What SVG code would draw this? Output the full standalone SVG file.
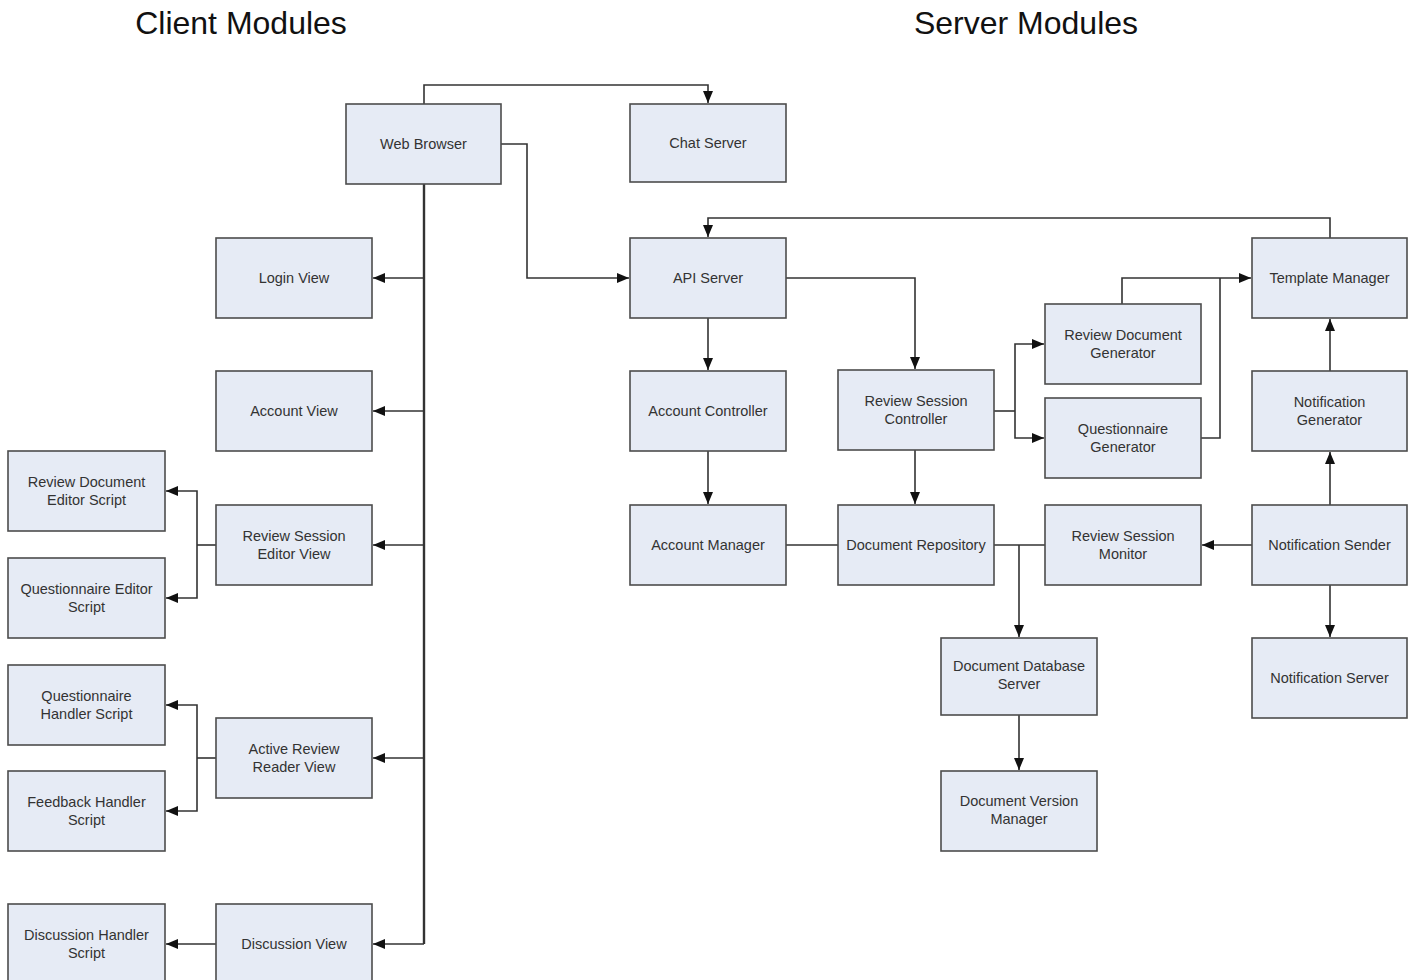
<svg xmlns="http://www.w3.org/2000/svg" width="1408" height="980" viewBox="0 0 1408 980">
<style>
.box{fill:#e6ebf5;stroke:#4d4d4d;stroke-width:1.6}
.lbl{font-family:"Liberation Sans",Arial,sans-serif;font-size:14.5px;fill:#333;text-anchor:middle}
.title{font-family:"Liberation Sans",Arial,sans-serif;font-size:32px;fill:#111;text-anchor:middle}
.c{fill:none;stroke:#333;stroke-width:1.6}
.a{marker-end:url(#ah)}
.bus{stroke-width:2.4}
</style>
<defs>
<marker id="ah" viewBox="0 0 12 10" refX="12" refY="5" markerWidth="12" markerHeight="10" markerUnits="userSpaceOnUse" orient="auto">
<path d="M0,0 L12,5 L0,10 Z" fill="#111"/>
</marker>
</defs>
<rect width="1408" height="980" fill="#fff"/>
<text class="title" x="241" y="34">Client Modules</text>
<text class="title" x="1026" y="34">Server Modules</text>

<g id="connectors">
<path class="c a" d="M424,104 V85 H708 V103"/>
<path class="c a" d="M501,144 H527 V278 H629"/>
<path class="c bus" d="M424,184 V944"/>
<path class="c a" d="M424,278 H373"/>
<path class="c a" d="M424,411 H373"/>
<path class="c a" d="M424,545 H373"/>
<path class="c a" d="M424,758 H373"/>
<path class="c a" d="M424,944 H373"/>
<path class="c" d="M216,545 H197"/>
<path class="c a" d="M197,545 V491 H166"/>
<path class="c a" d="M197,545 V598 H166"/>
<path class="c" d="M216,758 H197"/>
<path class="c a" d="M197,758 V705 H166"/>
<path class="c a" d="M197,758 V811 H166"/>
<path class="c a" d="M216,944 H166"/>
<path class="c a" d="M708,318 V370"/>
<path class="c a" d="M708,451 V504"/>
<path class="c a" d="M786,278 H915 V369"/>
<path class="c" d="M994,411 H1015"/>
<path class="c a" d="M1015,411 V344 H1044"/>
<path class="c a" d="M1015,411 V438 H1044"/>
<path class="c a" d="M1122,304 V278 H1251"/>
<path class="c" d="M1201,438 H1220 V278"/>
<path class="c a" d="M1330,238 V218 H708 V237"/>
<path class="c" d="M786,545 H838"/>
<path class="c a" d="M915,450 V504"/>
<path class="c" d="M994,545 H1045"/>
<path class="c a" d="M1019,545 V637"/>
<path class="c a" d="M1252,545 H1202"/>
<path class="c a" d="M1330,505 V452"/>
<path class="c a" d="M1330,371 V319"/>
<path class="c a" d="M1330,585 V637"/>
<path class="c a" d="M1019,715 V770"/>
</g>

<g id="web-browser"><rect class="box" x="346" y="104" width="155" height="80"/><text class="lbl" x="423.5" y="149">Web Browser</text></g>
<g id="chat-server"><rect class="box" x="630" y="104" width="156" height="78"/><text class="lbl" x="708" y="148">Chat Server</text></g>
<g id="login-view"><rect class="box" x="216" y="238" width="156" height="80"/><text class="lbl" x="294" y="283">Login View</text></g>
<g id="account-view"><rect class="box" x="216" y="371" width="156" height="80"/><text class="lbl" x="294" y="416">Account View</text></g>
<g id="review-session-editor-view"><rect class="box" x="216" y="505" width="156" height="80"/><text class="lbl" x="294" y="541">Review Session</text><text class="lbl" x="294" y="559">Editor View</text></g>
<g id="active-review-reader-view"><rect class="box" x="216" y="718" width="156" height="80"/><text class="lbl" x="294" y="754">Active Review</text><text class="lbl" x="294" y="772">Reader View</text></g>
<g id="discussion-view"><rect class="box" x="216" y="904" width="156" height="80"/><text class="lbl" x="294" y="949">Discussion View</text></g>
<g id="review-document-editor-script"><rect class="box" x="8" y="451" width="157" height="80"/><text class="lbl" x="86.5" y="487">Review Document</text><text class="lbl" x="86.5" y="505">Editor Script</text></g>
<g id="questionnaire-editor-script"><rect class="box" x="8" y="558" width="157" height="80"/><text class="lbl" x="86.5" y="594">Questionnaire Editor</text><text class="lbl" x="86.5" y="612">Script</text></g>
<g id="questionnaire-handler-script"><rect class="box" x="8" y="665" width="157" height="80"/><text class="lbl" x="86.5" y="701">Questionnaire</text><text class="lbl" x="86.5" y="719">Handler Script</text></g>
<g id="feedback-handler-script"><rect class="box" x="8" y="771" width="157" height="80"/><text class="lbl" x="86.5" y="807">Feedback Handler</text><text class="lbl" x="86.5" y="825">Script</text></g>
<g id="discussion-handler-script"><rect class="box" x="8" y="904" width="157" height="80"/><text class="lbl" x="86.5" y="940">Discussion Handler</text><text class="lbl" x="86.5" y="958">Script</text></g>

<g id="api-server"><rect class="box" x="630" y="238" width="156" height="80"/><text class="lbl" x="708" y="283">API Server</text></g>
<g id="account-controller"><rect class="box" x="630" y="371" width="156" height="80"/><text class="lbl" x="708" y="416">Account Controller</text></g>
<g id="account-manager"><rect class="box" x="630" y="505" width="156" height="80"/><text class="lbl" x="708" y="550">Account Manager</text></g>
<g id="review-session-controller"><rect class="box" x="838" y="370" width="156" height="80"/><text class="lbl" x="916" y="406">Review Session</text><text class="lbl" x="916" y="424">Controller</text></g>
<g id="document-repository"><rect class="box" x="838" y="505" width="156" height="80"/><text class="lbl" x="916" y="550">Document Repository</text></g>
<g id="review-document-generator"><rect class="box" x="1045" y="304" width="156" height="80"/><text class="lbl" x="1123" y="340">Review Document</text><text class="lbl" x="1123" y="358">Generator</text></g>
<g id="questionnaire-generator"><rect class="box" x="1045" y="398" width="156" height="80"/><text class="lbl" x="1123" y="434">Questionnaire</text><text class="lbl" x="1123" y="452">Generator</text></g>
<g id="template-manager"><rect class="box" x="1252" y="238" width="155" height="80"/><text class="lbl" x="1329.5" y="283">Template Manager</text></g>
<g id="notification-generator"><rect class="box" x="1252" y="371" width="155" height="80"/><text class="lbl" x="1329.5" y="407">Notification</text><text class="lbl" x="1329.5" y="425">Generator</text></g>
<g id="notification-sender"><rect class="box" x="1252" y="505" width="155" height="80"/><text class="lbl" x="1329.5" y="550">Notification Sender</text></g>
<g id="notification-server"><rect class="box" x="1252" y="638" width="155" height="80"/><text class="lbl" x="1329.5" y="683">Notification Server</text></g>
<g id="review-session-monitor"><rect class="box" x="1045" y="505" width="156" height="80"/><text class="lbl" x="1123" y="541">Review Session</text><text class="lbl" x="1123" y="559">Monitor</text></g>
<g id="document-database-server"><rect class="box" x="941" y="638" width="156" height="77"/><text class="lbl" x="1019" y="671">Document Database</text><text class="lbl" x="1019" y="689">Server</text></g>
<g id="document-version-manager"><rect class="box" x="941" y="771" width="156" height="80"/><text class="lbl" x="1019" y="806">Document Version</text><text class="lbl" x="1019" y="824">Manager</text></g>
</svg>
